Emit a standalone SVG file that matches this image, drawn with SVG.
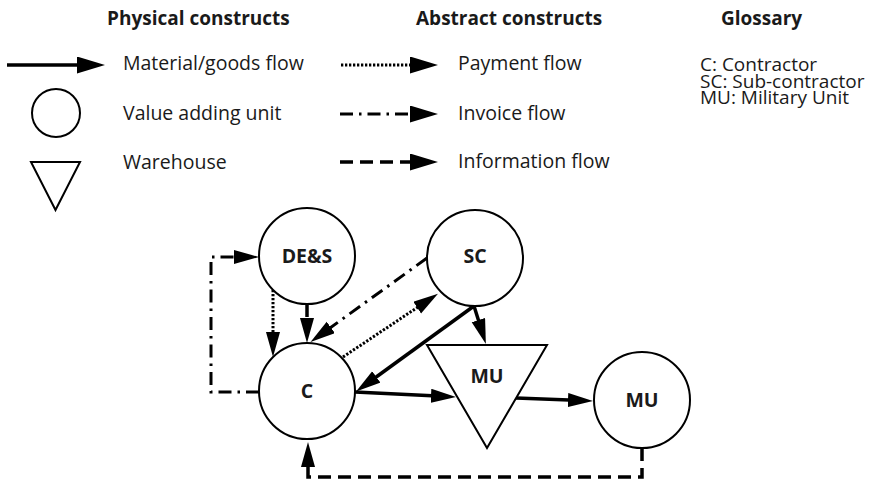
<svg xmlns="http://www.w3.org/2000/svg" width="872" height="483" viewBox="0 0 872 483">
<style>
text{font-family:"Open Sans","Noto Sans","DejaVu Sans",sans-serif;fill:#1a1a1a}
.h{font-size:19px;font-weight:bold}
.b{font-size:19.5px}
.g{font-size:19px}
.n{font-size:19.5px;font-weight:bold;text-anchor:middle}
.shape{fill:#fff;stroke:#000;stroke-width:2}
.mat{fill:none;stroke:#000;stroke-width:3.5}
.pay{fill:none;stroke:#000;stroke-width:3;stroke-dasharray:2.3 1.7}
.inv{fill:none;stroke:#000;stroke-width:3;stroke-dasharray:13 6 2.5 6}
.inf{fill:none;stroke:#000;stroke-width:3.5;stroke-dasharray:13 7}
</style>
<defs>
<marker id="al" markerUnits="userSpaceOnUse" markerWidth="30" markerHeight="18" refX="1" refY="8.5" orient="auto"><path d="M0,0 L28,8.5 L0,17 Z" fill="#000"/></marker>
<marker id="ad" markerUnits="userSpaceOnUse" markerWidth="27" markerHeight="15" refX="1" refY="7" orient="auto"><path d="M0,0 L25,7 L0,14 Z" fill="#000"/></marker>
</defs>

<g id="legend">
<text class="h" x="107" y="25">Physical constructs</text>
<text class="h" x="416" y="25">Abstract constructs</text>
<text class="h" x="721" y="25">Glossary</text>

<line class="mat" x1="7" y1="65" x2="78" y2="65" marker-end="url(#al)"/>
<text class="b" x="123" y="70">Material/goods flow</text>
<circle class="shape" cx="56" cy="113" r="24"/>
<text class="b" x="123" y="120">Value adding unit</text>
<polygon class="shape" points="31,162 80,162 55.5,210"/>
<text class="b" x="123" y="169">Warehouse</text>

<line class="pay" x1="341" y1="65" x2="411" y2="65" marker-end="url(#al)"/>
<text class="b" x="458" y="70">Payment flow</text>
<line class="inv" x1="340" y1="114" x2="411" y2="114" marker-end="url(#al)"/>
<text class="b" x="458" y="120">Invoice flow</text>
<line class="inf" x1="340" y1="162" x2="411" y2="162" marker-end="url(#al)"/>
<text class="b" x="458" y="168">Information flow</text>

<text class="g" x="700" y="71">C: Contractor</text>
<text class="g" x="700" y="87.5">SC: Sub-contractor</text>
<text class="g" x="700" y="104">MU: Military Unit</text>
</g>

<g id="connectors">
<path class="inv" d="M259,392 H211 V257 H235" marker-end="url(#ad)"/>
<path class="pay" d="M273,290 V333" marker-end="url(#ad)"/>
<path class="inf" d="M307,304 V319" marker-end="url(#ad)"/>
<path class="inv" d="M427,258 L330,328" marker-end="url(#ad)"/>
<path class="pay" d="M343,357 L418,307" marker-end="url(#ad)"/>
<path class="mat" d="M474,306 L375.5,377.5" marker-end="url(#ad)"/>
<path class="mat" d="M474,306 L478.7,321" marker-end="url(#ad)"/>
<path class="mat" d="M355,392 L432,395.8" marker-end="url(#ad)"/>
<path class="mat" d="M516,398 L569,400" marker-end="url(#ad)"/>
<path class="inf" d="M642,448 V477 H308 V466" marker-end="url(#ad)"/>
</g>

<g id="node-des">
<circle class="shape" cx="307" cy="256" r="48"/>
<text class="n" x="307" y="263">DE&amp;S</text>
</g>
<g id="node-sc">
<circle class="shape" cx="475" cy="258" r="48"/>
<text class="n" x="475" y="263">SC</text>
</g>
<g id="node-c">
<circle class="shape" cx="307" cy="391" r="48"/>
<text class="n" x="307" y="398">C</text>
</g>
<g id="node-mu-warehouse">
<polygon class="shape" points="427,345 547,345 487,448"/>
<text class="n" x="487" y="383">MU</text>
</g>
<g id="node-mu">
<circle class="shape" cx="642" cy="400" r="48"/>
<text class="n" x="642" y="407">MU</text>
</g>
</svg>
